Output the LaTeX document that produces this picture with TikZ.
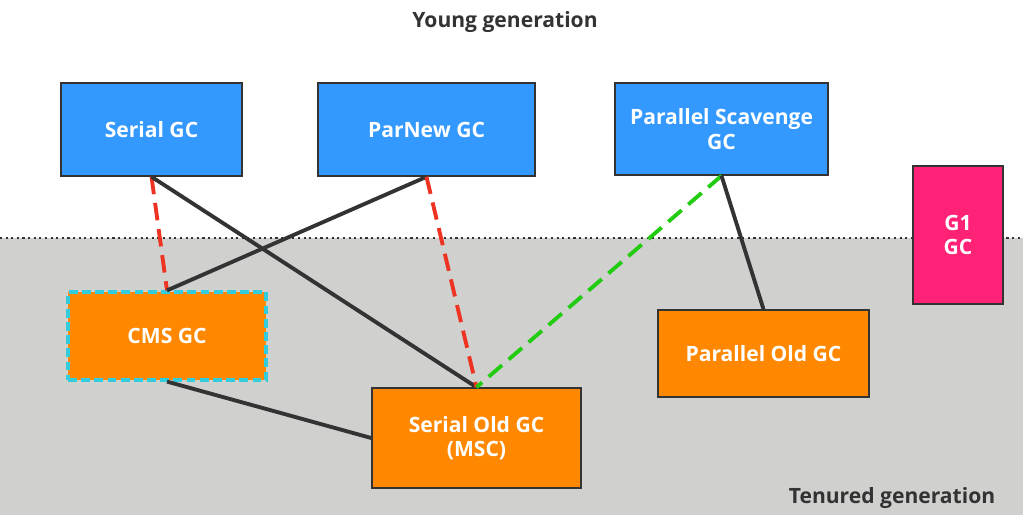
\documentclass[tikz,border=0pt]{standalone}
\usepackage{fontspec}
\setmainfont{Open Sans}
\usepackage{tikz}
\usetikzlibrary{arrows.meta,calc}
\definecolor{gcblue}{HTML}{3399FF}
\definecolor{gcorange}{HTML}{FF8800}
\definecolor{gcpink}{HTML}{FF2277}
\definecolor{tenuregray}{HTML}{D0D0CE}
\definecolor{cmscyan}{HTML}{33CCDD}
\definecolor{linkred}{HTML}{EE3322}
\definecolor{linkgreen}{HTML}{22CC11}
\definecolor{darkline}{HTML}{333333}

\tikzset{
  gcbox/.style={draw=darkline,line width=0.9pt,text=white,font=\bfseries\fontsize{12}{14}\selectfont,align=center,inner sep=0pt},
  younggc/.style={gcbox,fill=gcblue},
  oldgc/.style={gcbox,fill=gcorange},
  pair/.style={darkline,line width=2.2pt},
  pairdash/.style={line width=2.2pt,dash pattern=on 10pt off 5pt}
}

\begin{document}
\begin{tikzpicture}[x=0.02cm,y=-0.02cm]
  \useasboundingbox (0,0) rectangle (1023,515);
  % generations
  \fill[tenuregray] (0,238) rectangle (1023,515);
  \draw[darkline,line width=1.2pt,dotted] (0,238) -- (1023,238);
  \node[font=\bfseries\fontsize{12}{14}\selectfont,text=darkline] (young) at (505,22) {Young generation};
  \node[font=\bfseries\fontsize{12}{14}\selectfont,text=darkline] (tenured) at (892,498) {Tenured generation};
  % collectors
  \node[younggc,minimum width=3.62cm,minimum height=1.86cm] (serial) at (151.5,129.5) {Serial GC};
  \node[younggc,minimum width=4.34cm,minimum height=1.86cm] (parnew) at (426.5,129.5) {ParNew GC};
  \node[younggc,minimum width=4.26cm,minimum height=1.84cm] (scavenge) at (721.5,129) {Parallel Scavenge\\GC};
  \node[gcbox,fill=gcpink,minimum width=1.8cm,minimum height=2.76cm] (g1) at (958,235) {G1\\GC};
  \node[oldgc,draw=cmscyan,line width=1.8pt,dash pattern=on 5pt off 2.5pt,minimum width=3.96cm,minimum height=1.76cm] (cms) at (167,336) {CMS GC};
  \node[oldgc,minimum width=4.22cm,minimum height=1.74cm] (parold) at (763.5,353.5) {Parallel Old GC};
  \node[oldgc,minimum width=4.18cm,minimum height=2cm] (serialold) at (476.5,438) {Serial Old GC\\(MSC)};
  % combinations
  \draw[pairdash,linkred] (serial.south) -- (cms.north);
  \draw[pair] (serial.south) -- (serialold.north);
  \draw[pair] (parnew.south) -- (cms.north);
  \draw[pairdash,linkred] (parnew.south) -- (serialold.north);
  \draw[pairdash,linkgreen] (scavenge.south) -- (serialold.north);
  \draw[pair] (scavenge.south) -- (parold.north);
  \draw[pair] (cms.south) -- (serialold.west);
\end{tikzpicture}
\end{document}
